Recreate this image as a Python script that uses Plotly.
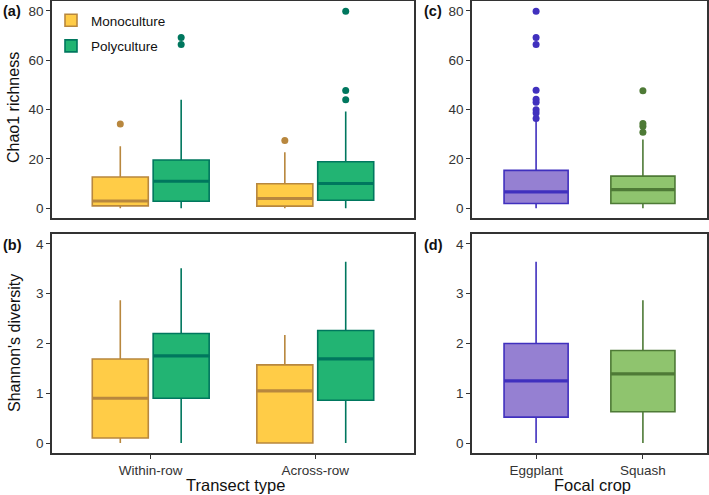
import plotly.graph_objects as go

# categories
transects = ["Within-row", "Across-row"]
crops = ["Eggplant", "Squash"]

# Chao1 richness, by transect type (a)
mono_chao = dict(q1=[0.9, 0.8], median=[2.9, 3.9], q3=[12.6, 9.9],
                 lo=[0.0, 0.0], hi=[25.1, 22.7], out=[[34.1], [27.4]])
poly_chao = dict(q1=[2.8, 3.2], median=[10.9, 10.0], q3=[19.5, 18.8],
                 lo=[0.0, 0.0], hi=[44.0, 39.2],
                 out=[[69.2, 66.4], [79.8, 47.7, 44.0]])

# Shannon's diversity, by transect type (b)
mono_shan = dict(q1=[0.1, 0.0], median=[0.9, 1.05], q3=[1.69, 1.57],
                 lo=[0.0, 0.0], hi=[2.87, 2.17], out=None)
poly_shan = dict(q1=[0.9, 0.86], median=[1.75, 1.69], q3=[2.2, 2.26],
                 lo=[0.0, 0.0], hi=[3.51, 3.64], out=None)

# Chao1 richness, by focal crop (c)
egg_chao = dict(q1=[1.9], median=[6.6], q3=[15.3], lo=[0.0], hi=[35.5],
                out=[[79.8, 69.2, 66.4, 47.8, 44.2, 42.9, 39.9, 38.6, 36.4]])
squ_chao = dict(q1=[1.9], median=[7.5], q3=[13.0], lo=[0.0], hi=[27.8],
                out=[[47.6, 34.3, 33.2, 30.8]])

# Shannon's diversity, by focal crop (d)
egg_shan = dict(q1=[0.52], median=[1.25], q3=[2.0], lo=[0.0], hi=[3.64], out=None)
squ_shan = dict(q1=[0.63], median=[1.39], q3=[1.86], lo=[0.0], hi=[2.87], out=None)

colors = {
    "Monoculture": ("#FFCC47", "#B8873E"),
    "Polyculture": ("#22B473", "#00775E"),
    "Eggplant": ("#9580D2", "#4030BE"),
    "Squash": ("#8FC46E", "#4E7A36"),
}

FONT = "Liberation Sans, Arial, sans-serif"
W, H = 709, 495


def px(x):
    return x / W


def py(y):
    return 1 - y / H


def add_box(fig, cats, s, name, xa, ya, group, showlegend=False, width=None):
    fill, line = colors[name]
    kw = {}
    if width is not None:
        kw["width"] = width
    if s["out"] is not None:
        kw["y"] = s["out"]
    fig.add_trace(go.Box(
        x=cats, q1=s["q1"], median=s["median"], q3=s["q3"],
        lowerfence=s["lo"], upperfence=s["hi"],
        name=name, legendgroup=name, showlegend=showlegend, offsetgroup=group,
        boxpoints="outliers", jitter=0, pointpos=0,
        fillcolor=fill, line=dict(color=line, width=1.6), whiskerwidth=0,
        marker=dict(color=line, size=7, opacity=1),
        xaxis=xa, yaxis=ya, **kw))
    # thicker median bar, drawn as a flat box in the same slot
    med = s["median"]
    kw.pop("y", None)
    fig.add_trace(go.Box(
        x=cats, q1=med, median=med, q3=med, lowerfence=med, upperfence=med,
        name=name, legendgroup=name, showlegend=False, offsetgroup=group,
        boxpoints=False, fillcolor=fill, line=dict(color=line, width=3.2),
        whiskerwidth=0, hoverinfo="skip", xaxis=xa, yaxis=ya, **kw))


fig = go.Figure()
add_box(fig, transects, mono_chao, "Monoculture", "x", "y", "mono", showlegend=True)
add_box(fig, transects, poly_chao, "Polyculture", "x", "y", "poly", showlegend=True)
add_box(fig, transects, mono_shan, "Monoculture", "x2", "y2", "mono")
add_box(fig, transects, poly_shan, "Polyculture", "x2", "y2", "poly")
add_box(fig, crops[:1], egg_chao, "Eggplant", "x3", "y3", "crop", width=0.6)
add_box(fig, crops[1:], squ_chao, "Squash", "x3", "y3", "crop", width=0.6)
add_box(fig, crops[:1], egg_shan, "Eggplant", "x4", "y4", "crop", width=0.6)
add_box(fig, crops[1:], squ_shan, "Squash", "x4", "y4", "crop", width=0.6)

left_dom = [px(52), px(414)]
right_dom = [px(472), px(707)]
top_dom = [py(218), py(1)]
bot_dom = [py(453), py(234)]

axis_common = dict(showline=True, mirror=True, linecolor="#333333", linewidth=1.6,
                   ticklen=4, tickcolor="#333333", tickwidth=1,
                   showgrid=False, zeroline=False, automargin=False,
                   tickfont=dict(family=FONT, size=13.5, color="#333333"))

fig.update_layout(
    width=W, height=H,
    margin=dict(l=0, r=0, t=0, b=0),
    paper_bgcolor="white", plot_bgcolor="white",
    font=dict(family=FONT, color="#111111"),
    boxmode="group", boxgap=0.26, boxgroupgap=0.08,
    xaxis=dict(domain=left_dom, anchor="y", type="category", range=[-0.6, 1.6],
               categoryorder="array", categoryarray=transects,
               ticks="", showticklabels=False, **axis_common),
    yaxis=dict(domain=top_dom, anchor="x", range=[-4, 84], tickvals=[0, 20, 40, 60, 80],
               ticks="outside", **axis_common),
    xaxis2=dict(domain=left_dom, anchor="y2", type="category", range=[-0.6, 1.6],
                categoryorder="array", categoryarray=transects,
                ticks="outside", **axis_common),
    yaxis2=dict(domain=bot_dom, anchor="x2", range=[-0.2, 4.2], tickvals=[0, 1, 2, 3, 4],
                ticks="outside", **axis_common),
    xaxis3=dict(domain=right_dom, anchor="y3", type="category", range=[-0.6, 1.6],
                categoryorder="array", categoryarray=crops,
                ticks="", showticklabels=False, **axis_common),
    yaxis3=dict(domain=top_dom, anchor="x3", range=[-4, 84], tickvals=[0, 20, 40, 60, 80],
                ticks="outside", **axis_common),
    xaxis4=dict(domain=right_dom, anchor="y4", type="category", range=[-0.6, 1.6],
                categoryorder="array", categoryarray=crops,
                ticks="outside", **axis_common),
    yaxis4=dict(domain=bot_dom, anchor="x4", range=[-0.2, 4.2], tickvals=[0, 1, 2, 3, 4],
                ticks="outside", **axis_common),
    legend=dict(x=px(51), y=py(5), xanchor="left", yanchor="top",
                bgcolor="rgba(0,0,0,0)", font=dict(family=FONT, size=13.5, color="#111111"),
                itemwidth=30, tracegroupgap=5),
)

# panel letters
for txt, x, y in [("(a)", 1, 11), ("(b)", 1, 245), ("(c)", 422, 11), ("(d)", 422, 245)]:
    fig.add_annotation(text="<b>%s</b>" % txt, x=px(x), y=py(y), xref="paper", yref="paper",
                       xanchor="left", yanchor="middle", showarrow=False,
                       font=dict(family=FONT, size=14.5, color="#111111"))

# axis titles
titles = [("Chao1 richness", 14, 108, -90, 16), ("Shannon's diversity", 14, 343, -90, 16),
          ("Transect type", 235, 485, 0, 16.5), ("Focal crop", 592, 485, 0, 16.5)]
for txt, x, y, ang, size in titles:
    fig.add_annotation(text=txt, x=px(x), y=py(y), xref="paper", yref="paper",
                       xanchor="center", yanchor="middle", textangle=ang, showarrow=False,
                       font=dict(family=FONT, size=size, color="#111111"))

# the default page adds an 8px body margin; drop it so the figure fills the window
fig.write_html("out.html", config={"displayModeBar": False},
               post_script="document.body.style.margin = '0';")
